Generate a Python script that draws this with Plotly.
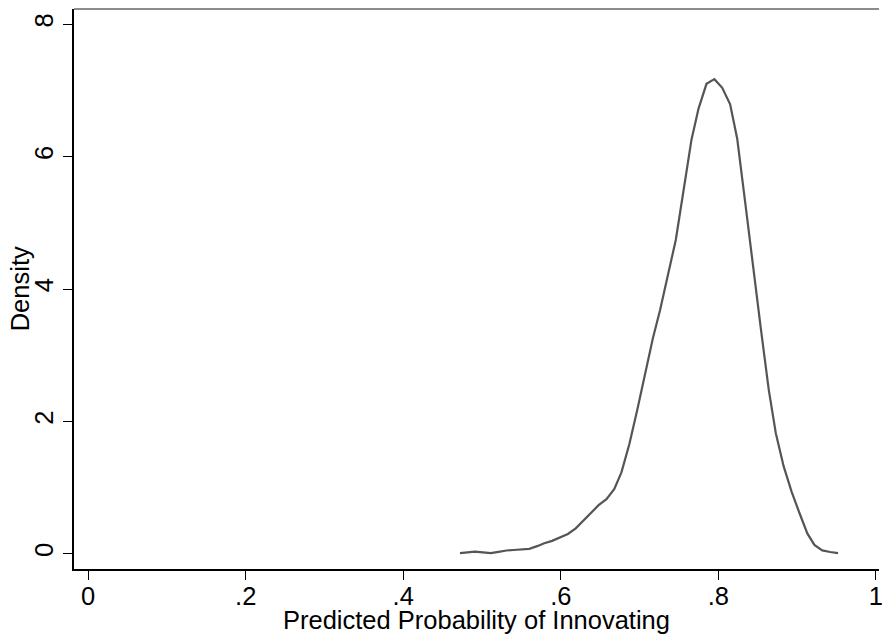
import plotly.graph_objects as go

# Kernel density estimate of predicted probability of innovating
prob = [0.472, 0.482, 0.491, 0.501, 0.511, 0.521, 0.531, 0.540, 0.550, 0.560,
        0.570, 0.579, 0.589, 0.599, 0.609, 0.619, 0.628, 0.638, 0.648, 0.658,
        0.668, 0.677, 0.687, 0.697, 0.707, 0.717, 0.726, 0.736, 0.746, 0.756,
        0.766, 0.775, 0.785, 0.795, 0.805, 0.815, 0.824, 0.834, 0.844, 0.854,
        0.864, 0.873, 0.883, 0.893, 0.903, 0.913, 0.922, 0.932, 0.942, 0.952]
density = [0.009, 0.021, 0.032, 0.021, 0.010, 0.029, 0.050, 0.057, 0.065, 0.074,
           0.115, 0.160, 0.195, 0.246, 0.300, 0.384, 0.490, 0.616, 0.734, 0.826,
           0.980, 1.230, 1.655, 2.170, 2.710, 3.260, 3.680, 4.190, 4.740, 5.500,
           6.260, 6.730, 7.100, 7.170, 7.040, 6.790, 6.270, 5.320, 4.330, 3.400,
           2.480, 1.820, 1.320, 0.940, 0.616, 0.308, 0.134, 0.051, 0.027, 0.009]

x_tickvals = [0, 0.2, 0.4, 0.6, 0.8, 1]
x_ticktext = ["0", ".2", ".4", ".6", ".8", "1"]
y_tickvals = [0, 2, 4, 6, 8]
y_ticktext = ["0", "2", "4", "6", "8"]

fig = go.Figure()
fig.add_trace(go.Scatter(x=prob, y=density, mode="lines",
                         line=dict(color="#555555", width=2.2),
                         showlegend=False, hoverinfo="skip"))

font_family = "Liberation Sans, Arial, sans-serif"
fs = 25.5

fig.update_layout(
    width=883, height=634,
    margin=dict(l=74, r=0, t=9, b=65),
    paper_bgcolor="white", plot_bgcolor="white",
    font=dict(family=font_family, size=fs, color="black"),
    xaxis=dict(range=[-0.018, 1.004], tickvals=x_tickvals, ticktext=x_ticktext,
               showgrid=False, zeroline=False, showline=True, linecolor="black",
               linewidth=1.5, ticks="outside", ticklen=9, tickwidth=1.2,
               tickcolor="black", tickfont=dict(size=fs),
               ticklabeloverflow="allow", ticklabelstandoff=-5,
               title=dict(text="Predicted Probability of Innovating",
                          font=dict(size=fs), standoff=2)),
    yaxis=dict(range=[-0.23, 8.23], tickvals=y_tickvals, ticktext=y_ticktext,
               showgrid=False, zeroline=False, showline=True, linecolor="black",
               linewidth=1.5, ticks="outside", ticklen=9, tickwidth=1.2,
               tickcolor="black", tickangle=-90, tickfont=dict(size=fs)),
    annotations=[dict(text="Density", textangle=-90, xref="paper", yref="paper",
                      x=-0.0667, y=0.5, xanchor="center", yanchor="middle",
                      showarrow=False, font=dict(size=fs))],
)

# plot-region outline on top (gray)
fig.add_shape(type="line", xref="paper", yref="paper", x0=0, x1=1, y0=1, y1=1,
              line=dict(color="#666666", width=1.5))

fig.write_html("out.html", config={"displayModeBar": False},
               post_script="document.body.style.margin='0';document.body.style.overflow='hidden';")
